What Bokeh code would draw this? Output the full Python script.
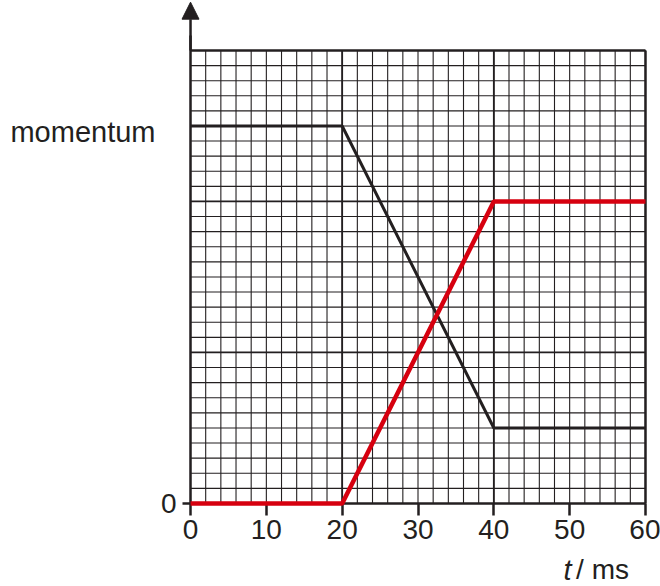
from bokeh.plotting import figure
from bokeh.models import Range1d, FixedTicker, Label, Arrow, NormalHead
from bokeh.embed import file_html
from bokeh.resources import INLINE

# Data (t in ms, momentum in grid units)
t_black = [0, 20, 40, 60]
p_black = [25, 25, 5, 5]
t_red = [0, 20, 40, 60]
p_red = [0, 0, 20, 20]

x_ticks = [0, 10, 20, 30, 40, 50, 60]
y_ticks = [0]
x_minor = list(range(0, 61, 2))
x_major = [20, 40]
y_minor = list(range(0, 31, 1))
y_major = [10, 20]
X_MAX = 60
Y_MAX = 30
Y_ARROW = 33.2

FONT = "Liberation Sans"
INK = "#231f20"

p = figure(width=660, height=586, min_border=0,
           x_range=Range1d(-25.06, 61.98), y_range=Range1d(-5.50, 33.31),
           output_backend="svg", toolbar_location=None,
           background_fill_color="white", border_fill_color="white")
p.outline_line_color = None
p.xgrid.visible = False
p.ygrid.visible = False

# minor grid
p.segment(x0=x_minor, y0=[0]*len(x_minor), x1=x_minor, y1=[Y_MAX]*len(x_minor),
          line_color=INK, line_width=1.1)
p.segment(x0=[0]*len(y_minor), y0=y_minor, x1=[X_MAX]*len(y_minor), y1=y_minor,
          line_color=INK, line_width=1.1)
# major grid
p.segment(x0=x_major, y0=[0]*len(x_major), x1=x_major, y1=[Y_MAX]*len(x_major),
          line_color=INK, line_width=1.8)
p.segment(x0=[0]*len(y_major), y0=y_major, x1=[X_MAX]*len(y_major), y1=y_major,
          line_color=INK, line_width=1.8)
# outer border of grid
p.segment(x0=[X_MAX], y0=[0], x1=[X_MAX], y1=[Y_MAX], line_color=INK, line_width=2.5)
p.segment(x0=[0], y0=[Y_MAX], x1=[X_MAX], y1=[Y_MAX], line_color=INK, line_width=2.5)

# axes (fixed at the origin)
xa = p.xaxis[0]
xa.fixed_location = 0
xa.bounds = (0, X_MAX)
xa.ticker = FixedTicker(ticks=x_ticks)
xa.axis_line_color = INK
xa.axis_line_width = 2.5
xa.major_tick_line_color = INK
xa.major_tick_line_width = 2.5
xa.major_tick_in = 0
xa.major_tick_out = 12
xa.minor_tick_line_color = None
xa.major_label_text_font = FONT
xa.major_label_text_font_size = "28px"
xa.major_label_text_color = INK
xa.major_label_standoff = 5

ya = p.yaxis[0]
ya.fixed_location = 0
ya.bounds = (0, Y_MAX + 1)
ya.ticker = FixedTicker(ticks=y_ticks)
ya.axis_line_color = INK
ya.axis_line_width = 2.5
ya.major_tick_line_color = INK
ya.major_tick_line_width = 2.5
ya.major_tick_in = 0
ya.major_tick_out = 8
ya.minor_tick_line_color = None
ya.major_label_text_font = FONT
ya.major_label_text_font_size = "28px"
ya.major_label_text_color = INK
ya.major_label_standoff = 6

# data lines (drawn above the axes, as in the reference)
p.line(t_black, p_black, line_color=INK, line_width=3, level="overlay")
p.line(t_red, p_red, line_color="#d6000f", line_width=4.5, level="overlay")

# arrow head on the y axis
p.add_layout(Arrow(end=NormalHead(size=17, fill_color=INK, line_color=INK),
                   x_start=0, y_start=Y_MAX, x_end=0, y_end=Y_ARROW,
                   line_color=INK, line_width=2.5))

# labels
p.add_layout(Label(x=-4.62, y=24.6, text="momentum", text_align="right",
                   text_baseline="alphabetic", text_font=FONT,
                   text_font_size="29px", text_color=INK))
p.add_layout(Label(x=49.2, y=-4.4, text="t", text_align="left",
                   text_baseline="alphabetic", text_font=FONT,
                   text_font_style="italic", text_font_size="29px", text_color=INK))
p.add_layout(Label(x=50.85, y=-4.4, text="/ ms", text_align="left",
                   text_baseline="alphabetic", text_font=FONT,
                   text_font_size="28px", text_color=INK))

open("out.html", "w").write(file_html(p, INLINE))
